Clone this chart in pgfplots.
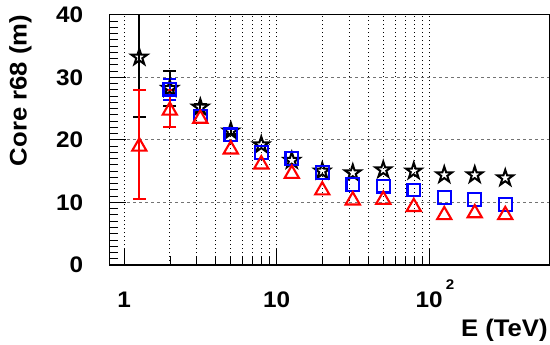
\documentclass[border=0pt]{standalone}
\usepackage{fontspec}
\setmainfont{Liberation Sans}
\usepackage{graphicx}
\usepackage{pgfplots}
\pgfplotsset{compat=1.18}

% open five-pointed star marker
\pgfdeclareplotmark{ostar}{%
  \pgfpathmoveto{\pgfpoint{0pt}{\pgfplotmarksize}}%
  \pgfpathlineto{\pgfpoint{-0.2245\pgfplotmarksize}{0.309\pgfplotmarksize}}%
  \pgfpathlineto{\pgfpoint{-0.951\pgfplotmarksize}{0.309\pgfplotmarksize}}%
  \pgfpathlineto{\pgfpoint{-0.363\pgfplotmarksize}{-0.118\pgfplotmarksize}}%
  \pgfpathlineto{\pgfpoint{-0.588\pgfplotmarksize}{-0.809\pgfplotmarksize}}%
  \pgfpathlineto{\pgfpoint{0pt}{-0.382\pgfplotmarksize}}%
  \pgfpathlineto{\pgfpoint{0.588\pgfplotmarksize}{-0.809\pgfplotmarksize}}%
  \pgfpathlineto{\pgfpoint{0.363\pgfplotmarksize}{-0.118\pgfplotmarksize}}%
  \pgfpathlineto{\pgfpoint{0.951\pgfplotmarksize}{0.309\pgfplotmarksize}}%
  \pgfpathlineto{\pgfpoint{0.2245\pgfplotmarksize}{0.309\pgfplotmarksize}}%
  \pgfpathclose\pgfusepathqstroke}

\newcommand\tl[1]{\scalebox{1.08}[1]{\fontsize{22.5bp}{26bp}\selectfont\bfseries #1}}
\newcommand\ttl[1]{\scalebox{1.07}[1]{\fontsize{24bp}{28bp}\selectfont\bfseries #1}}

\begin{document}
\begin{tikzpicture}
\begin{axis}[
  at={(0,0)}, anchor=south west,
  scale only axis, width=440bp, height=250.3bp,
  xmode=log, xmin=0.8, xmax=615,
  ymin=0, ymax=40,
  axis line style={line width=1.2bp},
  tick align=inside,
  xtick pos=lower, ytick pos=lower,
  major tick length=17bp, minor tick length=9bp,
  every tick/.style={black, line width=0.9bp},
  xtick={1,10,100},
  xticklabels={\tl{1},\tl{10},\tl{10\rlap{\smash{\kern3bp\raisebox{18bp}{\fontsize{14bp}{16bp}\selectfont\bfseries 2}}}}},
  ytick={0,10,20,30,40},
  yticklabels={\tl{0},\tl{10},\tl{20},\tl{30},\tl{40}},
  minor y tick num=9,
  xticklabel style={anchor=north, inner sep=0pt, yshift=-27bp},
  yticklabel style={anchor=east, inner sep=0pt, xshift=-26bp},
  xmajorgrids=true, xminorgrids=true, ymajorgrids=true,
  major x grid style={black, line width=1bp, dash pattern=on 1.3bp off 2.7bp},
  minor x grid style={black, line width=1bp, dash pattern=on 1.3bp off 2.7bp},
  major y grid style={black!55, line width=1bp, dash pattern=on 3bp off 3bp},
  xlabel={\ttl{E (TeV)}},
  xlabel style={at={(axis description cs:1,0)}, anchor=base east, inner sep=0pt, yshift=-71.7bp, xshift=-1.5bp},
  ylabel={\ttl{Core r68 (m)}},
  ylabel style={at={(axis description cs:-0.1877,1)}, rotate=0, anchor=base east, inner sep=0pt},
  error bars/y dir=both, error bars/y explicit,
]

% black stars: points with visible error bars
\addplot[black, only marks, mark=ostar, mark size=8.3bp, line width=2bp,
  error bars/error bar style={line width=2bp},
  error bars/error mark options={mark size=6.3bp, line width=2bp, rotate=90}]
  coordinates {
  (1.259,33.2) +- (0,9.6)
  (1.995,28.2) +- (0,2.85)
  (3.162,25.2) +- (0,0.5)
  (5.012,21.4) +- (0,0.5)
};
\addplot[black, only marks, mark=ostar, mark size=8.3bp, line width=2bp]
  coordinates {
  (7.943,19.2) (12.59,16.7) (19.95,15.0) (31.62,14.7) (50.12,15.2)
  (79.43,15.0) (125.9,14.4) (199.5,14.4) (316.2,13.9)
};

% blue squares
\addplot[blue, only marks, mark=square, mark size=6.3bp, line width=2.1bp,
  error bars/error bar style={line width=2bp},
  error bars/error mark options={mark size=6.3bp, line width=2bp, rotate=90}]
  coordinates {
  (1.995,28.1) +- (0,1.7)
};
\addplot[blue, only marks, mark=square, mark size=6.3bp, line width=2.1bp]
  coordinates {
  (3.162,23.7) (5.012,20.8) (7.943,18.0) (12.59,17.0) (19.95,14.8)
  (31.62,12.9) (50.12,12.6) (79.43,12.0) (125.9,10.8) (199.5,10.45) (316.2,9.65)
};

% red triangles
\addplot[red, only marks, mark=triangle, mark size=8.2bp, line width=2.1bp,
  mark options={yshift=-2bp},
  error bars/error bar style={line width=2bp},
  error bars/error mark options={mark size=6.3bp, line width=2bp, rotate=90}]
  coordinates {
  (1.259,19.25) +- (0,8.75)
  (1.995,25.0) +- (0,3.0)
};
\addplot[red, only marks, mark=triangle, mark size=8.2bp, line width=2.1bp,
  mark options={yshift=-2bp}]
  coordinates {
  (3.162,23.7) (5.012,18.8) (7.943,16.4) (12.59,14.9) (19.95,12.25)
  (31.62,10.65) (50.12,10.75) (79.43,9.6) (125.9,8.3) (199.5,8.6) (316.2,8.3)
};
\end{axis}
\pgfresetboundingbox
\path[use as bounding box] (-109.3bp,-80bp) rectangle (440.7bp,265bp);
\end{tikzpicture}
\end{document}
